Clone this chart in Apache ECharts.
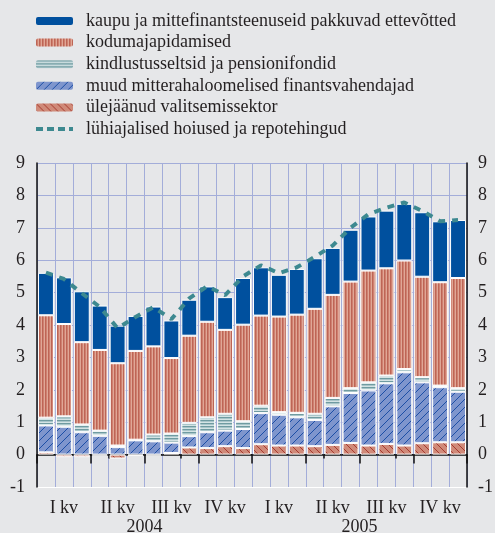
<!DOCTYPE html>
<html>
<head>
<meta charset="utf-8">
<script src="https://cdn.jsdelivr.net/npm/echarts@6/dist/echarts.min.js"></script>
<style>
  html, body { margin: 0; padding: 0; background: #e6e7e9; }
  #chart { width: 495px; height: 533px; }
</style>
</head>
<body>
<div id="chart"></div>
<script>
// kuud 2004-2005
var months = ['jaan 04', 'veebr 04', 'märts 04', 'apr 04', 'mai 04', 'juuni 04', 'juuli 04', 'aug 04', 'sept 04', 'okt 04', 'nov 04', 'dets 04',
              'jaan 05', 'veebr 05', 'märts 05', 'apr 05', 'mai 05', 'juuni 05', 'juuli 05', 'aug 05', 'sept 05', 'okt 05', 'nov 05', 'dets 05'];
var quarters = ['I kv', 'II kv', 'III kv', 'IV kv', 'I kv', 'II kv', 'III kv', 'IV kv'];
var years = ['2004', '2005'];

var names = [
  'kaupu ja mittefinantsteenuseid pakkuvad ettevõtted',
  'kodumajapidamised',
  'kindlustusseltsid ja pensionifondid',
  'muud mitterahaloomelised finantsvahendajad',
  'ülejäänud valitsemissektor',
  'lühiajalised hoiused ja repotehingud'
];

var valitsus = [0.07, -0.08, -0.08, -0.03, -0.12, -0.04, -0.03, 0.05, 0.22, 0.2, 0.26, 0.2, 0.32, 0.28, 0.28, 0.26, 0.3, 0.36, 0.28, 0.33, 0.28, 0.35, 0.38, 0.38];
var muud = [0.83, 0.86, 0.69, 0.58, 0.23, 0.44, 0.41, 0.32, 0.35, 0.49, 0.48, 0.59, 0.96, 0.95, 0.87, 0.81, 1.19, 1.54, 1.7, 1.87, 2.26, 1.88, 1.7, 1.56];
var kindlustus = [0.24, 0.32, 0.24, 0.16, 0.05, 0.02, 0.21, 0.28, 0.41, 0.46, 0.52, 0.24, 0.23, 0.08, 0.14, 0.19, 0.26, 0.15, 0.25, 0.24, 0.1, 0.16, 0.05, 0.11];
var kodu = [3.16, 2.85, 2.54, 2.49, 2.54, 2.74, 2.72, 2.33, 2.69, 2.95, 2.59, 2.98, 2.78, 2.95, 3.03, 3.24, 3.18, 3.29, 3.45, 3.31, 3.35, 3.1, 3.19, 3.4];
var ettevotted = [1.31, 1.44, 1.57, 1.37, 1.16, 1.08, 1.23, 1.16, 1.11, 1.09, 1.01, 1.44, 1.49, 1.29, 1.41, 1.56, 1.45, 1.6, 1.67, 1.78, 1.75, 1.99, 1.88, 1.79];
var hoiused = [5.62, 5.42, 4.98, 4.56, 3.9, 4.25, 4.55, 4.18, 4.82, 5.2, 4.92, 5.5, 5.84, 5.6, 5.78, 6.1, 6.45, 7.0, 7.42, 7.62, 7.78, 7.52, 7.2, 7.24];

var FONT = '"Liberation Serif", "DejaVu Serif", serif';
var GRID_COLOR = '#a3add9';

// mustrid tulpade jaoks
function stripes(w, h, cols) {
  var c = document.createElement('canvas');
  c.width = w; c.height = h;
  var ctx = c.getContext('2d');
  cols.forEach(function (col, i) {
    ctx.fillStyle = col;
    if (w > h) ctx.fillRect(0, i, w, 1);
    else ctx.fillRect(i, 0, 1, h);
  });
  return { image: c, repeat: 'repeat' };
}
function hatch(size, base, lineColor, forward) {
  var c = document.createElement('canvas');
  c.width = size; c.height = size;
  var ctx = c.getContext('2d');
  ctx.fillStyle = base;
  ctx.fillRect(0, 0, size, size);
  ctx.strokeStyle = lineColor;
  ctx.lineWidth = 1;
  ctx.beginPath();
  if (forward) {
    ctx.moveTo(-1, size + 1); ctx.lineTo(size + 1, -1);
    ctx.moveTo(-1, 1); ctx.lineTo(1, -1);
    ctx.moveTo(size - 1, size + 1); ctx.lineTo(size + 1, size - 1);
  } else {
    ctx.moveTo(-1, -1); ctx.lineTo(size + 1, size + 1);
    ctx.moveTo(size - 1, -1); ctx.lineTo(size + 1, 1);
    ctx.moveTo(-1, size - 1); ctx.lineTo(1, size + 1);
  }
  ctx.stroke();
  return { image: c, repeat: 'repeat' };
}

var koduFill = stripes(3, 8, ['#bd6555', '#cf8070', '#e0a796']);
var kindlFill = stripes(8, 3, ['#6f9ba1', '#a8c5c9', '#d3e3e4']);
var muudFill = hatch(8, '#7e95cd', '#1d4fa6', true);
var valitsusFill = hatch(7, '#d08a79', '#a63a2f', false);

var chart = echarts.init(document.getElementById('chart'));

function barSeries(name, data, color) {
  return {
    name: name,
    type: 'bar',
    stack: 'kokku',
    data: data,
    barCategoryGap: '11%',
    itemStyle: { color: color, borderColor: '#ffffff', borderWidth: 1 },
    emphasis: { disabled: true }
  };
}

var splitColors = ['#ffffff', '#111111'];
for (var i = 0; i < 9; i++) splitColors.push(GRID_COLOR);

var option = {
  backgroundColor: '#e6e7e9',
  animation: false,
  textStyle: { fontFamily: FONT, color: '#231f20' },
  legend: {
    orient: 'vertical',
    left: 31,
    top: 7,
    itemWidth: 37,
    itemHeight: 8,
    itemGap: 3.6,
    textStyle: { fontFamily: FONT, fontSize: 18, color: '#231f20', padding: [0, 0, 0, 8] },
    itemStyle: { borderWidth: 0 },
    data: [
      { name: names[0] },
      { name: names[1] },
      { name: names[2] },
      { name: names[3] },
      { name: names[4] },
      { name: names[5], icon: 'path://M0,3h7v4h-7z M11,3h7v4h-7z M22,3h7v4h-7z M33,3h4v4h-4z' }
    ]
  },
  grid: { left: 37, right: 28, top: 163, bottom: 46, outerBoundsMode: 'none', containLabel: false },
  xAxis: [
    {
      type: 'category',
      data: months,
      position: 'bottom',
      axisLine: { show: true, lineStyle: { color: '#111', width: 1.5 } },
      axisTick: { show: true, length: 4, lineStyle: { color: '#111', width: 1.5 } },
      axisLabel: { show: false },
      splitLine: { show: true, interval: 0, lineStyle: { color: GRID_COLOR, width: 1 } }
    },
    {
      type: 'category',
      data: quarters,
      position: 'bottom',
      axisLine: { show: false },
      axisTick: { show: true, length: 9, lineStyle: { color: '#111', width: 1.5 } },
      axisLabel: { fontFamily: FONT, fontSize: 18, color: '#231f20', margin: 12, interval: 0 },
      splitLine: { show: false }
    },
    {
      type: 'category',
      data: years,
      position: 'bottom',
      offset: 22,
      axisLine: { show: false },
      axisTick: { show: false },
      axisLabel: { fontFamily: FONT, fontSize: 18, color: '#231f20', margin: 9, interval: 0 },
      splitLine: { show: false }
    }
  ],
  yAxis: [
    {
      type: 'value',
      min: -1,
      max: 9,
      interval: 1,
      position: 'left',
      axisLine: { show: true, lineStyle: { color: '#111', width: 1.5 } },
      axisTick: { show: false },
      axisLabel: { fontFamily: FONT, fontSize: 18, color: '#231f20', margin: 12 },
      splitLine: { show: true, lineStyle: { color: splitColors, width: 1.2 } }
    },
    {
      type: 'value',
      min: -1,
      max: 9,
      interval: 1,
      position: 'right',
      axisLine: { show: true, lineStyle: { color: '#111', width: 1.5 } },
      axisTick: { show: false },
      axisLabel: { fontFamily: FONT, fontSize: 18, color: '#231f20', margin: 11 },
      splitLine: { show: false }
    }
  ],
  series: [
    barSeries(names[4], valitsus, valitsusFill),
    barSeries(names[3], muud, muudFill),
    barSeries(names[2], kindlustus, kindlFill),
    barSeries(names[1], kodu, koduFill),
    barSeries(names[0], ettevotted, '#00509e'),
    {
      name: names[5],
      type: 'line',
      data: hoiused,
      symbol: 'none',
      z: 5,
      itemStyle: { color: '#3d8990' },
      lineStyle: { color: '#3d8990', width: 4, type: [7, 7] },
      emphasis: { disabled: true }
    }
  ]
};

chart.setOption(option);
</script>
</body>
</html>
